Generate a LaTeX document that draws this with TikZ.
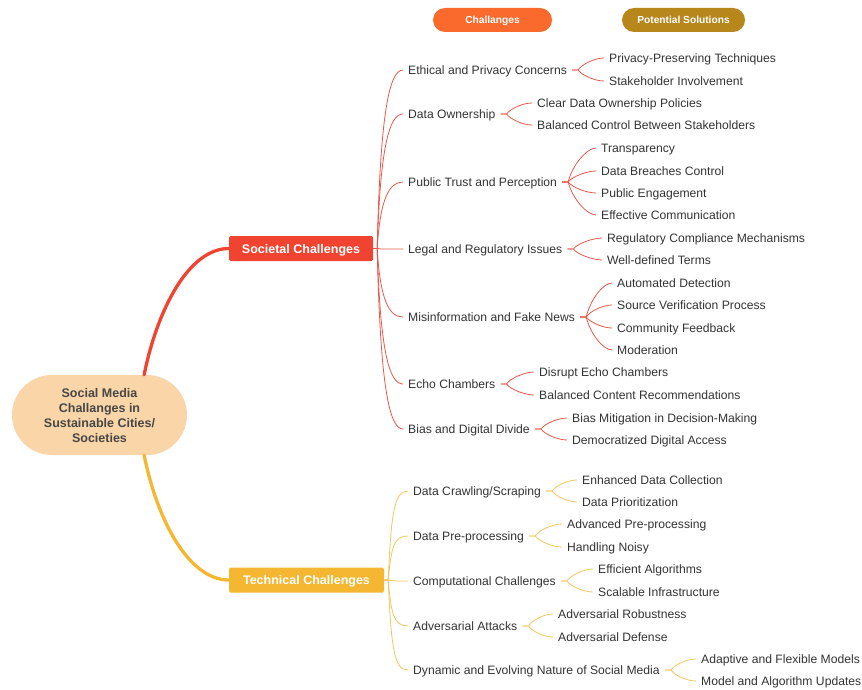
\documentclass[tikz,border=0pt]{standalone}
\usepackage{fontspec}
\setmainfont{Liberation Sans}
\usetikzlibrary{calc}
\definecolor{rootfill}{HTML}{F9D5A8}
\definecolor{roottext}{HTML}{474747}
\definecolor{socred}{HTML}{F04431}
\definecolor{techyel}{HTML}{F5B731}
\definecolor{soclinec}{HTML}{E8584A}
\definecolor{techlinec}{HTML}{F2C65E}
\definecolor{legorange}{HTML}{FA6A2D}
\definecolor{leggold}{HTML}{B8871C}
\definecolor{txt}{HTML}{333333}
\newcommand\fk[4]{\draw[#1] (#2.east) -- ++(6,0) .. controls +(4,{0.5*(#4)}) and +(-9,0) .. (#3.west);}
\newcommand\tk[4]{\draw[#1] (#2.east) -- ++(4,0) .. controls +(3,{0.75*(#4)}) and +(-14,0) .. (#3.west);}
\begin{document}
\begin{tikzpicture}[x=1pt,y=-1pt,
  leaf/.style={anchor=west, inner xsep=5pt, inner ysep=1pt, text height=10.5pt, text depth=1.5pt,
    font=\fontsize{12.15}{14}\selectfont, text=txt},
  catbox/.style={text=white, font=\fontsize{12.5}{15}\bfseries, rounded corners=1.5pt,
    inner sep=0pt, minimum height=25pt, text height=11pt, text depth=1.6pt},
  legpill/.style={text=white, font=\fontsize{10.2}{12}\bfseries, rounded corners=12pt,
    inner sep=0pt, minimum width=119pt, minimum height=24pt, text height=9pt, text depth=1pt},
  rootlink/.style={line width=3.3pt, line cap=round},
  sl/.style={soclinec, line width=0.8pt},
  tl/.style={techlinec, line width=0.8pt}]
\useasboundingbox (0,0) rectangle (862,690);

% legend
\node[legpill, fill=legorange] (lg1) at (492.5,20) {Challanges};
\node[legpill, fill=leggold, minimum width=123pt] (lg2) at (683.5,20) {Potential Solutions};

% root
\node[fill=rootfill, rounded corners=40pt, minimum width=175pt, minimum height=80pt,
  inner sep=0pt, align=center, text=roottext, font=\fontsize{12.5}{15}\bfseries] (root) at (99.5,415)
  {\rule{0pt}{11pt}Social Media\\Challanges in\\Sustainable Cities/\\Societies};

% category boxes
\node[catbox, fill=socred, minimum width=144pt] (soc) at (301,248.5) {Societal Challenges};
\node[catbox, fill=techyel, minimum width=155pt] (tech) at (306.5,580) {Technical Challenges};

\draw[rootlink, socred] (root.42) .. controls +(13,-65) and +(-40,0) .. (soc.west);
\draw[rootlink, techyel] (root.-42) .. controls +(13,65) and +(-40,0) .. (tech.west);

% societal challenges
\node[leaf] (c1) at (403,70) {Ethical and Privacy Concerns};
\node[leaf] (c2) at (403,114) {Data Ownership};
\node[leaf] (c3) at (403,182) {Public Trust and Perception};
\node[leaf] (c4) at (403,249) {Legal and Regulatory Issues};
\node[leaf] (c5) at (403,317) {Misinformation and Fake News};
\node[leaf] (c6) at (403,384) {Echo Chambers};
\node[leaf] (c7) at (403,429) {Bias and Digital Divide};

\tk{sl}{soc}{c1}{-178}
\tk{sl}{soc}{c2}{-134}
\tk{sl}{soc}{c3}{-66}
\tk{sl}{soc}{c4}{1}
\tk{sl}{soc}{c5}{69}
\tk{sl}{soc}{c6}{136}
\tk{sl}{soc}{c7}{181}

% societal solutions
\node[leaf] (s11) at (604,58) {Privacy-Preserving Techniques};
\node[leaf] (s12) at (604,81) {Stakeholder Involvement};
\node[leaf] (s21) at (532,103) {Clear Data Ownership Policies};
\node[leaf] (s22) at (532,125) {Balanced Control Between Stakeholders};
\node[leaf] (s31) at (596,148) {Transparency};
\node[leaf] (s32) at (596,171) {Data Breaches Control};
\node[leaf] (s33) at (596,193) {Public Engagement};
\node[leaf] (s34) at (596,215) {Effective Communication};
\node[leaf] (s41) at (602,238) {Regulatory Compliance Mechanisms};
\node[leaf] (s42) at (602,260) {Well-defined Terms};
\node[leaf] (s51) at (612,283) {Automated Detection};
\node[leaf] (s52) at (612,305) {Source Verification Process};
\node[leaf] (s53) at (612,328) {Community Feedback};
\node[leaf] (s54) at (612,350) {Moderation};
\node[leaf] (s61) at (534,372) {Disrupt Echo Chambers};
\node[leaf] (s62) at (534,395) {Balanced Content Recommendations};
\node[leaf] (s71) at (567,418) {Bias Mitigation in Decision-Making};
\node[leaf] (s72) at (567,440) {Democratized Digital Access};

\fk{sl}{c1}{s11}{-12} \fk{sl}{c1}{s12}{11}
\fk{sl}{c2}{s21}{-11} \fk{sl}{c2}{s22}{11}
\fk{sl}{c3}{s31}{-34} \fk{sl}{c3}{s32}{-11} \fk{sl}{c3}{s33}{11} \fk{sl}{c3}{s34}{33}
\fk{sl}{c4}{s41}{-11} \fk{sl}{c4}{s42}{11}
\fk{sl}{c5}{s51}{-34} \fk{sl}{c5}{s52}{-12} \fk{sl}{c5}{s53}{11} \fk{sl}{c5}{s54}{33}
\fk{sl}{c6}{s61}{-12} \fk{sl}{c6}{s62}{11}
\fk{sl}{c7}{s71}{-11} \fk{sl}{c7}{s72}{11}

% technical challenges
\node[leaf] (t1) at (408,491) {Data Crawling/Scraping};
\node[leaf] (t2) at (408,536) {Data Pre-processing};
\node[leaf] (t3) at (408,581) {Computational Challenges};
\node[leaf] (t4) at (408,626) {Adversarial Attacks};
\node[leaf] (t5) at (408,670) {Dynamic and Evolving Nature of Social Media};

\tk{tl}{tech}{t1}{-89}
\tk{tl}{tech}{t2}{-44}
\tk{tl}{tech}{t3}{1}
\tk{tl}{tech}{t4}{46}
\tk{tl}{tech}{t5}{90}

% technical solutions
\node[leaf] (u11) at (577,480) {Enhanced Data Collection};
\node[leaf] (u12) at (577,502) {Data Prioritization};
\node[leaf] (u21) at (562,524) {Advanced Pre-processing};
\node[leaf] (u22) at (562,547) {Handling Noisy};
\node[leaf] (u31) at (593,569) {Efficient Algorithms};
\node[leaf] (u32) at (593,592) {Scalable Infrastructure};
\node[leaf] (u41) at (553,614) {Adversarial Robustness};
\node[leaf] (u42) at (553,637) {Adversarial Defense};
\node[leaf] (u51) at (696,659) {Adaptive and Flexible Models};
\node[leaf] (u52) at (696,681) {Model and Algorithm Updates};

\fk{tl}{t1}{u11}{-11} \fk{tl}{t1}{u12}{11}
\fk{tl}{t2}{u21}{-12} \fk{tl}{t2}{u22}{11}
\fk{tl}{t3}{u31}{-12} \fk{tl}{t3}{u32}{11}
\fk{tl}{t4}{u41}{-12} \fk{tl}{t4}{u42}{11}
\fk{tl}{t5}{u51}{-11} \fk{tl}{t5}{u52}{11}
\end{tikzpicture}
\end{document}
